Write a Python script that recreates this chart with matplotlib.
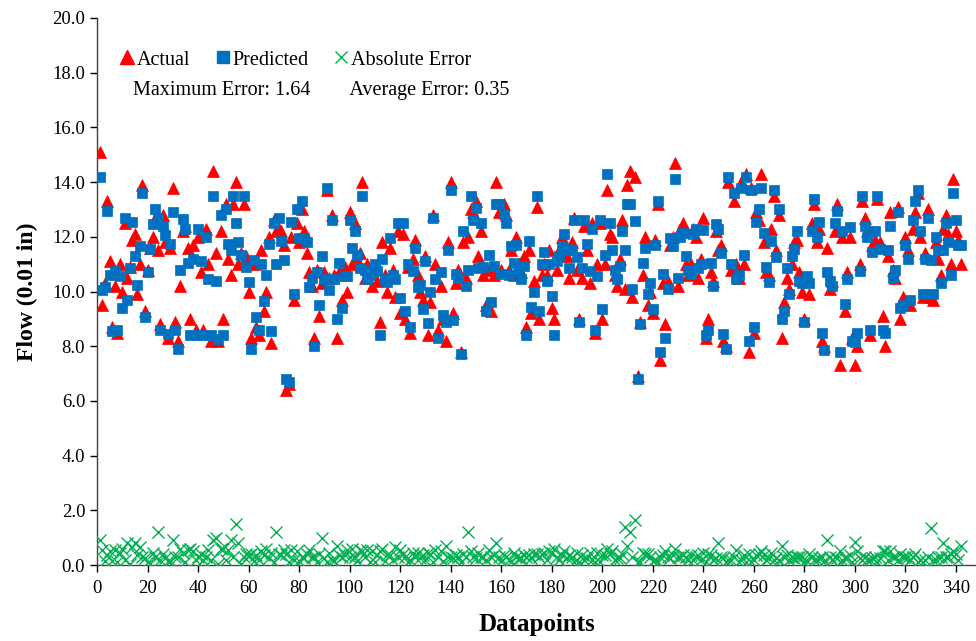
import matplotlib
matplotlib.use("Agg")
import matplotlib.pyplot as plt
from matplotlib.lines import Line2D

plt.rcParams['font.family'] = ['Liberation Serif', 'DejaVu Serif']

actual = [
    15.1, 9.5, 10.3, 13.3, 11.1, 8.7, 10.2, 8.5, 11.0, 10.0,
    12.5, 10.5, 10.9, 11.9, 12.1, 9.9, 11.0, 13.9, 9.3, 10.8,
    11.6, 12.0, 12.7, 11.5, 8.8, 12.8, 11.8, 8.3, 11.6, 13.8,
    8.9, 8.2, 10.2, 12.2, 12.4, 11.6, 9.0, 11.7, 8.6, 12.0,
    10.7, 8.6, 12.3, 11.0, 8.2, 14.4, 11.4, 8.2, 12.2, 9.0,
    13.2, 11.2, 10.6, 13.2, 14.0, 11.0, 11.4, 13.2, 11.3, 10.0,
    8.3, 11.0, 8.7, 8.4, 11.5, 9.3, 10.0, 12.0, 8.1, 12.6,
    12.2, 12.3, 12.2, 11.7, 6.4, 6.6, 12.0, 9.7, 12.5, 11.8,
    13.0, 12.2, 11.4, 10.7, 10.2, 8.3, 10.8, 9.1, 10.3, 10.7,
    13.7, 10.5, 12.8, 10.6, 8.3, 10.7, 9.7, 10.9, 10.0, 12.9,
    11.0, 12.5, 11.2, 11.4, 14.0, 10.5, 11.0, 10.7, 10.2, 10.9,
    10.4, 8.9, 11.8, 10.6, 10.0, 11.6, 10.8, 9.8, 12.2, 9.2,
    12.1, 9.0, 10.9, 8.5, 11.2, 11.9, 10.6, 10.0, 9.7, 11.3,
    8.4, 9.6, 12.8, 11.0, 8.6, 10.2, 9.0, 8.2, 11.8, 14.0,
    9.2, 10.3, 10.8, 7.8, 11.8, 10.5, 12.0, 13.0, 12.9, 13.3,
    11.3, 12.2, 10.6, 9.5, 10.8, 9.3, 10.6, 14.0, 12.9, 10.8,
    13.2, 12.8, 10.8, 11.5, 10.6, 12.0, 11.0, 10.7, 11.3, 8.7,
    11.5, 9.2, 10.4, 13.1, 9.0, 10.6, 11.0, 10.6, 11.5, 9.4,
    9.0, 10.8, 11.5, 12.0, 11.6, 11.3, 10.5, 11.8, 12.7, 10.8,
    9.0, 10.5, 12.4, 11.5, 10.3, 12.5, 8.5, 11.0, 12.5, 9.0,
    11.0, 13.7, 12.1, 12.0, 10.6, 10.2, 11.2, 12.6, 10.1, 13.9,
    14.4, 9.8, 14.2, 6.9, 8.9, 10.6, 12.0, 9.5, 10.0, 9.2,
    11.9, 13.2, 7.5, 10.3, 8.8, 10.4, 11.7, 12.0, 14.7, 10.2,
    12.3, 12.5, 11.0, 10.6, 11.0, 12.3, 12.0, 10.5, 11.2, 12.7,
    8.3, 9.0, 10.7, 10.4, 12.2, 11.5, 11.7, 8.2, 8.0, 14.0,
    10.8, 13.3, 11.0, 10.5, 14.0, 11.0, 14.3, 7.8, 13.8, 8.5,
    12.9, 12.6, 14.3, 11.8, 10.7, 10.6, 12.3, 13.5, 11.5, 12.8,
    8.3, 9.6, 10.5, 10.1, 11.0, 11.8, 11.9, 10.7, 10.0, 9.0,
    10.4, 9.9, 12.5, 13.2, 11.8, 12.3, 8.2, 8.0, 11.6, 10.1,
    10.4, 12.2, 13.2, 7.3, 12.0, 9.3, 10.7, 12.0, 8.3, 7.3,
    8.0, 11.0, 13.3, 12.7, 12.2, 8.4, 11.7, 11.9, 13.4, 11.8,
    9.1, 8.0, 11.3, 12.9, 10.8, 10.5, 13.1, 9.0, 9.8, 12.0,
    11.5, 9.5, 12.3, 12.9, 13.6, 12.0, 9.8, 11.4, 13.0, 9.8,
    9.7, 11.8, 11.2, 10.6, 12.3, 12.8, 12.1, 11.0, 14.1, 12.2,
    11.9, 11.0,
]

predicted = [
    14.2, 10.05, 10.15, 12.95, 10.6, 8.55, 10.75, 8.6, 10.55, 9.4,
    12.7, 9.7, 10.85, 12.55, 11.3, 10.25, 11.65, 13.6, 9.05, 10.7,
    11.55, 12.45, 13.0, 12.7, 8.6, 12.4, 12.05, 8.45, 11.75, 12.9,
    8.6, 7.9, 10.8, 12.65, 12.3, 11.05, 8.4, 11.2, 8.4, 12.3,
    11.1, 8.4, 12.0, 10.45, 8.4, 13.5, 10.4, 8.25, 12.8, 8.4,
    13.0, 11.75, 11.5, 13.5, 12.5, 11.8, 11.35, 13.5, 10.9, 10.35,
    7.9, 11.15, 9.05, 8.6, 11.0, 9.65, 10.6, 11.75, 8.55, 12.5,
    11.0, 12.7, 11.85, 11.15, 6.8, 6.7, 12.55, 9.9, 13.0, 11.95,
    13.3, 11.95, 11.8, 10.15, 10.5, 8.0, 10.7, 9.5, 11.3, 10.45,
    13.8, 10.05, 12.6, 10.45, 9.0, 11.05, 9.4, 10.55, 10.55, 12.6,
    11.6, 12.2, 11.35, 10.85, 13.5, 10.8, 10.45, 10.6, 10.7, 11.0,
    10.75, 8.4, 11.2, 10.45, 10.35, 11.95, 10.6, 10.45, 12.5, 9.75,
    12.5, 9.3, 11.0, 8.7, 10.75, 11.6, 10.15, 10.25, 9.35, 11.1,
    8.85, 10.0, 12.7, 10.45, 8.3, 10.7, 9.15, 8.9, 11.5, 13.7,
    8.95, 10.65, 10.5, 7.7, 12.2, 10.2, 10.8, 13.5, 12.6, 13.05,
    10.85, 12.5, 10.9, 9.3, 11.35, 9.6, 10.95, 13.2, 13.2, 10.65,
    12.85, 12.5, 10.6, 11.65, 11.05, 11.7, 10.75, 10.45, 10.95, 8.4,
    11.85, 9.45, 10.0, 13.5, 9.3, 11.0, 11.45, 10.4, 11.0, 9.85,
    8.4, 11.1, 11.3, 11.65, 12.1, 11.55, 10.85, 11.5, 12.6, 11.25,
    8.9, 10.85, 12.6, 11.75, 10.75, 12.3, 8.6, 10.55, 12.6, 9.35,
    11.35, 14.3, 12.5, 11.5, 10.8, 10.45, 10.95, 12.2, 11.5, 13.2,
    13.2, 10.1, 12.56, 6.8, 8.8, 11.05, 11.6, 9.9, 10.3, 9.35,
    11.7, 13.3, 7.8, 10.65, 8.3, 10.1, 11.95, 11.65, 14.1, 10.5,
    12.0, 12.15, 11.3, 10.8, 10.65, 12.1, 12.3, 10.85, 11.0, 12.25,
    8.4, 8.6, 11.05, 10.2, 12.45, 12.3, 11.4, 8.45, 7.9, 14.2,
    11.0, 13.6, 10.45, 10.6, 13.8, 11.35, 14.2, 8.2, 13.7, 8.7,
    12.55, 13.0, 13.8, 12.15, 10.9, 10.35, 11.85, 13.7, 11.25, 13.0,
    9.0, 9.3, 10.85, 9.9, 11.3, 11.55, 12.2, 10.4, 10.3, 8.9,
    10.55, 10.3, 12.2, 13.4, 12.0, 12.55, 8.5, 7.85, 10.7, 10.4,
    10.2, 12.5, 12.95, 7.8, 12.2, 9.55, 10.45, 12.35, 8.2, 8.15,
    8.5, 10.75, 13.5, 12.4, 12.0, 8.6, 11.45, 12.2, 13.5, 11.55,
    8.6, 8.5, 11.5, 12.4, 10.5, 10.8, 12.9, 9.4, 9.5, 11.7,
    11.2, 9.7, 12.6, 13.3, 13.7, 12.2, 9.9, 11.2, 12.7, 11.15,
    9.9, 12.0, 11.5, 10.3, 11.5, 12.5, 11.8, 10.6, 13.6, 12.6,
    11.7, 11.7,
]

datapoints = list(range(1, len(actual) + 1))
abs_error = [abs(a - p) for a, p in zip(actual, predicted)]

y_ticks = [0, 2, 4, 6, 8, 10, 12, 14, 16, 18, 20]
x_ticks = list(range(0, 341, 20))

RED = '#FF0000'
BLUE = '#0070C0'
GREEN = '#00B050'

fig = plt.figure(figsize=(9.76, 6.41), dpi=100)
ax = fig.add_axes([97/976, 76/641, 879/976, 547/641])

ax.plot(datapoints, actual, linestyle='none', marker='^', markersize=8.5,
        color=RED, markeredgecolor=RED, markeredgewidth=0.5, zorder=3)
ax.plot(datapoints, predicted, linestyle='none', marker='s', markersize=7.2,
        color=BLUE, markeredgecolor=BLUE, markeredgewidth=0.5, zorder=4)
ax.plot(datapoints, abs_error, linestyle='none', marker='x', markersize=8.5,
        color=GREEN, markeredgewidth=1.0, zorder=5)

ax.set_xlim(0, 348)
ax.set_ylim(0, 20)
ax.set_yticks(y_ticks)
ax.set_yticklabels([f"{v:.1f}" for v in y_ticks])
ax.set_xticks(x_ticks)
ax.set_xticklabels([str(v) for v in x_ticks])
ax.tick_params(axis='both', labelsize=13.5, direction='out', length=5, width=1, colors='black')
ax.tick_params(axis='x', pad=6)
for s in ['top', 'right']:
    ax.spines[s].set_visible(False)
for s in ['left', 'bottom']:
    ax.spines[s].set_linewidth(1.0)
    ax.spines[s].set_color('#404040')

ax.set_ylabel('Flow (0.01 in)', fontsize=17, fontweight='bold', labelpad=10)
ax.set_xlabel('Datapoints', fontsize=18, fontweight='bold', labelpad=11)

handles = [
    Line2D([], [], linestyle='none', marker='^', markersize=9.5, color=RED),
    Line2D([], [], linestyle='none', marker='s', markersize=8, color=BLUE),
    Line2D([], [], linestyle='none', marker='x', markersize=9, color=GREEN, markeredgewidth=1),
]
ax.legend(handles, ['Actual', 'Predicted', 'Absolute Error'], ncol=3,
          loc='center left', bbox_to_anchor=(22/879, (565-60)/547),
          frameon=False, fontsize=14.5, handlelength=0.8, handletextpad=0.1,
          columnspacing=1.2, borderaxespad=0, borderpad=0)

fig.text(133/976, 1 - 90/641, 'Maximum Error: 1.64        Average Error: 0.35',
         fontsize=14.5, va='center', ha='left')

fig.savefig('out.png', dpi=100)
